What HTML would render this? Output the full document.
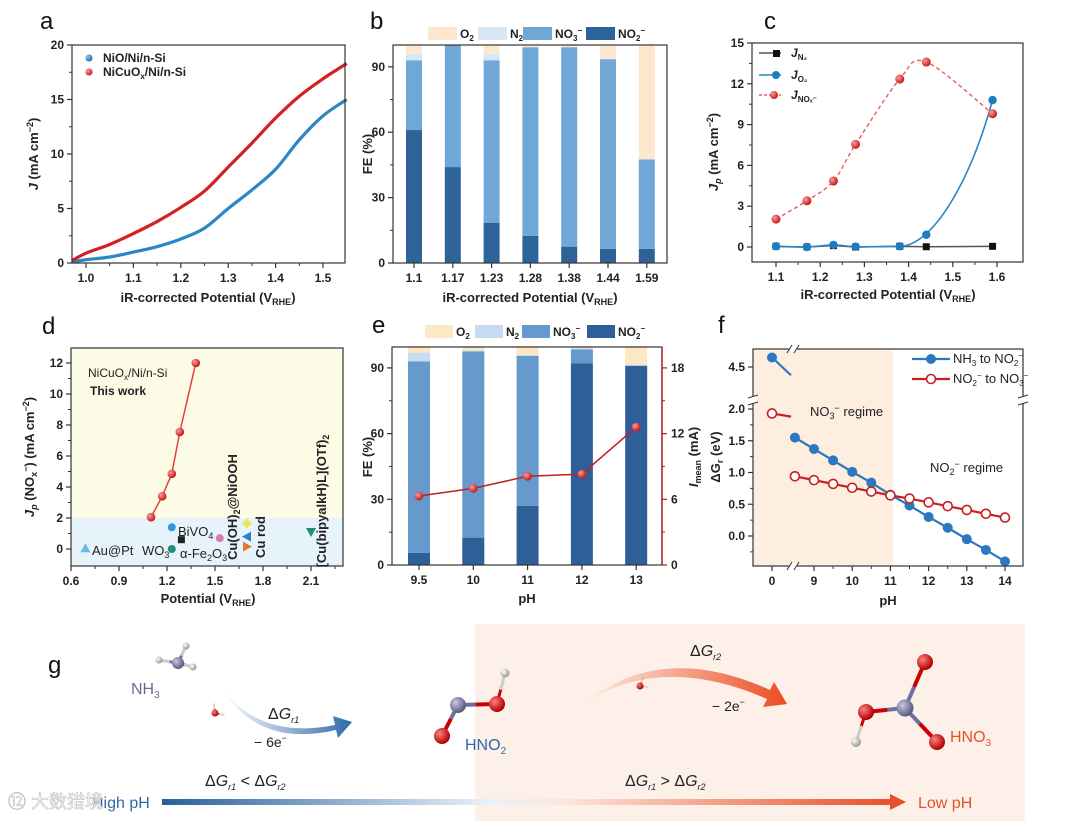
<!DOCTYPE html>
<html><head><meta charset="utf-8">
<style>
html,body{margin:0;padding:0;background:#fff;}
svg{display:block;font-family:"Liberation Sans",Arial,sans-serif;}
.t{font-size:12px;font-weight:bold;fill:#222;}
.at{font-size:13px;font-weight:bold;fill:#222;}
.pl{font-size:24px;fill:#111;}
.g16{font-size:16px;font-weight:normal;}
.g14{font-size:14px;font-weight:normal;}
</style></head>
<body>
<svg id="fig" width="1080" height="821" viewBox="0 0 1080 821" xmlns="http://www.w3.org/2000/svg">
<defs>
<radialGradient id="gN" cx="35%" cy="35%" r="65%"><stop offset="0" stop-color="#c8c8e0"/><stop offset="1" stop-color="#5a5a80"/></radialGradient>
<radialGradient id="gO" cx="35%" cy="35%" r="65%"><stop offset="0" stop-color="#ff8080"/><stop offset="1" stop-color="#b00000"/></radialGradient>
<radialGradient id="gH" cx="35%" cy="35%" r="65%"><stop offset="0" stop-color="#ffffff"/><stop offset="1" stop-color="#9a9a9a"/></radialGradient>
<radialGradient id="gR" cx="35%" cy="35%" r="65%"><stop offset="0" stop-color="#ff9a9a"/><stop offset="1" stop-color="#c41a1a"/></radialGradient>
<radialGradient id="gB" cx="35%" cy="35%" r="65%"><stop offset="0" stop-color="#8cc8f0"/><stop offset="1" stop-color="#1d6fb0"/></radialGradient>
<linearGradient id="arrB" x1="0" y1="0" x2="1" y2="0"><stop offset="0" stop-color="#2f6aa8" stop-opacity="0"/><stop offset="1" stop-color="#2f6aa8"/></linearGradient>
<linearGradient id="arrO" x1="0" y1="0" x2="1" y2="0"><stop offset="0" stop-color="#ec5a30" stop-opacity="0"/><stop offset="1" stop-color="#ec4a20"/></linearGradient>
<linearGradient id="bar" x1="0" y1="0" x2="1" y2="0"><stop offset="0" stop-color="#2a5f9a"/><stop offset="0.45" stop-color="#e8f2fa"/><stop offset="0.55" stop-color="#fde6dc"/><stop offset="1" stop-color="#e8502a"/></linearGradient>
</defs>
</svg>
<script>
// ---------- data ----------
// panel a
const aPot = [0.97,1.0,1.05,1.1,1.15,1.2,1.25,1.3,1.35,1.4,1.45,1.5,1.55];
const aRed = [0.2,0.9,1.7,2.7,3.8,5.1,6.6,8.8,11.0,13.3,15.3,16.9,18.3];
const aBlue = [0.1,0.3,0.55,1.0,1.5,2.2,3.2,5.0,6.7,8.6,11.3,13.5,15.0];
// panel b
const bCats = ['1.1','1.17','1.23','1.28','1.38','1.44','1.59'];
const bNO2 = [61,44,18.5,12.5,7.5,6.5,6.5];
const bNO3 = [32,56,74.5,86.5,91.5,87,41];
const bN2 = [3,0,3,0,0,0,0];
const bO2 = [4,0,4,0.5,1,6.5,52.5];
// panel c
const cPot = [1.1,1.17,1.23,1.28,1.38,1.44,1.59];
const cN2 = [0.05,0.0,0.1,0.0,0.05,0.02,0.05];
const cO2 = [0.05,0.0,0.15,0.02,0.05,0.9,10.8];
const cNOx = [2.05,3.4,4.85,7.55,12.35,13.6,9.8];
// panel d
const dPot = [1.1,1.17,1.23,1.28,1.38];
const dJ = [2.05,3.4,4.85,7.55,12.0];
const dRefPot = [0.69,1.23,1.23,1.29,1.53,1.70,1.70,1.70,2.10];
const dRefJ = [0.05,1.4,0.0,0.6,0.7,1.65,0.8,0.15,1.1];
// panel e
const eCats = ['9.5','10','11','12','13'];
const eNO2 = [5.5,12.5,27,92,91];
const eNO3 = [87.5,85,68.5,6.5,0];
const eN2 = [4,0.5,0.5,0.5,0.5];
const eO2 = [3,2,4,1,8.5];
const eI = [6.3,7.0,8.1,8.3,12.6];
// panel f
const fPh = [8.5,9,9.5,10,10.5,11,11.5,12,12.5,13,13.5,14];
const fBlue = [1.55,1.37,1.19,1.01,0.84,0.65,0.48,0.30,0.13,-0.05,-0.22,-0.40];
const fRed = [0.94,0.88,0.82,0.76,0.70,0.64,0.59,0.53,0.47,0.41,0.35,0.29];
const fBlue0 = [4.65,4.37];
const fRed0 = [1.93,1.88];

// ---------- helpers ----------
const NS='http://www.w3.org/2000/svg';
const svg=document.getElementById('fig');
function mk(tag,attrs,name,parent){
  const el=document.createElementNS(NS,tag);
  for(const k in attrs) el.setAttribute(k,attrs[k]);
  
  
  (parent||svg).appendChild(el);
  return el;
}
function txt(x,y,s,cls,name,extra){
  const a=Object.assign({x:x,y:y,class:cls||'t'},extra||{});
  const el=mk('text',a,name);
  el.innerHTML=s;
  return el;
}
function lin(d0,d1,r0,r1){return v=>r0+(v-d0)*(r1-r0)/(d1-d0);}
function frame(x0,y0,x1,y1,name){mk('rect',{x:x0,y:y0,width:x1-x0,height:y1-y0,fill:'none',stroke:'#333','stroke-width':1.2},name);}
function yTicks(vals,sy,x0,name,labels,side,color){
  vals.forEach((v,i)=>{
    const y=sy(v);
    const d=side==='r'?5:-5;
    mk('line',{x1:x0,y1:y,x2:x0+d,y2:y,stroke:color||'#333','stroke-width':1.2},name+'-tick');
    txt(side==='r'?x0+9:x0-8,y+4,labels?labels[i]:String(v),'t',name+'-label',{'text-anchor':side==='r'?'start':'end',fill:color||'#222'});
  });
}
function yMinor(vals,sy,x0,name,side,color){
  vals.forEach(v=>{const y=sy(v);mk('line',{x1:x0,y1:y,x2:x0+(side==='r'?3:-3),y2:y,stroke:color||'#333','stroke-width':1},name+'-minor-tick');});
}
function xTicks(vals,sx,y0,name,labels){
  vals.forEach((v,i)=>{
    const x=sx(v);
    mk('line',{x1:x,y1:y0,x2:x,y2:y0+5,stroke:'#333','stroke-width':1.2},name+'-tick');
    txt(x,y0+19,labels?labels[i]:String(v),'t',name+'-label',{'text-anchor':'middle'});
  });
}
function xMinor(vals,sx,y0,name){vals.forEach(v=>{const x=sx(v);mk('line',{x1:x,y1:y0,x2:x,y2:y0+3,stroke:'#333','stroke-width':1},name+'-minor-tick');});}
function spline(pts){
  let d='M'+pts[0][0]+','+pts[0][1];
  for(let i=0;i<pts.length-1;i++){
    const p0=pts[i-1]||pts[i],p1=pts[i],p2=pts[i+1],p3=pts[i+2]||p2;
    const c1=[p1[0]+(p2[0]-p0[0])/6,p1[1]+(p2[1]-p0[1])/6];
    const c2=[p2[0]-(p3[0]-p1[0])/6,p2[1]-(p3[1]-p1[1])/6];
    d+=' C'+c1[0]+','+c1[1]+' '+c2[0]+','+c2[1]+' '+p2[0]+','+p2[1];
  }
  return d;
}
function rotLabel(x,y,s,name,fill){
  return txt(0,0,s,'at',name,{'text-anchor':'middle',transform:'translate('+x+','+y+') rotate(-90)',fill:fill||'#222'});
}

// ================= panel a =================
txt(40,29,'a','pl','panel-label-a');
{
const sx=lin(1.0,1.5,86,323), sy=lin(0,20,263,45);
const pr=aPot.map((p,i)=>[sx(p),sy(aRed[i])]);
const pb=aPot.map((p,i)=>[sx(p),sy(aBlue[i])]);
mk('path',{d:spline(pb),fill:'none',stroke:'#2c86c4','stroke-width':3.2},'curve-nio');
mk('path',{d:spline(pr),fill:'none',stroke:'#d42020','stroke-width':3.2},'curve-nicuox');
frame(72,45,345,263,'plot-frame-a');
yTicks([0,5,10,15,20],sy,72,'y-axis-a');
yMinor([2.5,7.5,12.5,17.5],sy,72,'y-axis-a');
xTicks([1.0,1.1,1.2,1.3,1.4,1.5],sx,263,'x-axis-a',['1.0','1.1','1.2','1.3','1.4','1.5']);
xMinor([1.05,1.15,1.25,1.35,1.45],sx,263,'x-axis-a');
txt(208,302,'iR-corrected Potential (V<tspan font-size="9" dy="3">RHE</tspan><tspan dy="-3">)</tspan>','at','x-axis-title-a',{'text-anchor':'middle'});
rotLabel(38,154,'<tspan font-style="italic">J</tspan> (mA cm<tspan font-size="9" dy="-5">−2</tspan><tspan dy="5">)</tspan>','y-axis-title-a');
mk('circle',{cx:89,cy:58,r:3.5,fill:'url(#gB)'},'legend-marker-nio');
txt(103,62,'NiO/Ni/n-Si','t','legend-entry-nio');
mk('circle',{cx:89,cy:72,r:3.5,fill:'url(#gR)'},'legend-marker-nicuox');
txt(103,76,'NiCuO<tspan font-size="8" dy="3">x</tspan><tspan dy="-3">/Ni/n-Si</tspan>','t','legend-entry-nicuox');
}

// ================= panel b =================
txt(370,29,'b','pl','panel-label-b');
{
const cB={O2:'#fde8cf',N2:'#d6e8f5',NO3:'#6fa8d6',NO2:'#2e6399'};
const sx=i=>414+i*38.8, sy=lin(0,100,263,45), bw=16;
bCats.forEach((c,i)=>{
  let base=0;
  [[bNO2,'NO2'],[bNO3,'NO3'],[bN2,'N2'],[bO2,'O2']].forEach(([arr,k])=>{
    const v=arr[i]; if(v<=0) return;
    mk('rect',{x:sx(i)-bw/2,y:sy(base+v),width:bw,height:sy(base)-sy(base+v),fill:cB[k]},'bar-'+k.toLowerCase()+'-'+c);
    base+=v;
  });
});
frame(393,45,667,263,'plot-frame-b');
yTicks([0,30,60,90],sy,393,'y-axis-b');
yMinor([15,45,75],sy,393,'y-axis-b');
xTicks([0,1,2,3,4,5,6],sx,263,'x-axis-b',bCats);
txt(530,302,'iR-corrected Potential (V<tspan font-size="9" dy="3">RHE</tspan><tspan dy="-3">)</tspan>','at','x-axis-title-b',{'text-anchor':'middle'});
rotLabel(372,154,'FE (%)','y-axis-title-b');
[[428,'O2','O<tspan font-size="8" dy="3">2</tspan>'],[478,'N2','N<tspan font-size="8" dy="3">2</tspan>'],[523,'NO3','NO<tspan font-size="8" dy="3">3</tspan><tspan font-size="8" dy="-8">−</tspan>'],[586,'NO2','NO<tspan font-size="8" dy="3">2</tspan><tspan font-size="8" dy="-8">−</tspan>']].forEach(([x,k,l])=>{
  mk('rect',{x:x,y:27,width:29,height:13,fill:cB[k]},'legend-swatch-'+k.toLowerCase());
  txt(x+32,38,l,'t','legend-entry-'+k.toLowerCase());
});
}

// ================= panel c =================
txt(764,29,'c','pl','panel-label-c');
{
const sx=lin(1.1,1.6,776,997), sy=lin(0,15,247,43);
mk('polyline',{points:cPot.map((p,i)=>sx(p)+','+sy(cN2[i])).join(' '),fill:'none',stroke:'#555','stroke-width':1.5},'line-jn2');
const o2pts=cPot.map((p,i)=>[sx(p),sy(cO2[i])]);
const a=o2pts[4], b=o2pts[6];
const o2d=spline(o2pts.slice(0,5))+' C'+(a[0]+30)+','+a[1]+' '+(b[0]-25)+','+(b[1]+90)+' '+b[0]+','+b[1];
mk('path',{d:o2d,fill:'none',stroke:'#2c86c4','stroke-width':1.6},'line-jo2');
mk('path',{d:spline(cPot.map((p,i)=>[sx(p),sy(cNOx[i])])),fill:'none',stroke:'#e85a5a','stroke-width':1.4,'stroke-dasharray':'4,3'},'line-jnox');
cPot.forEach((p,i)=>{
  mk('rect',{x:sx(p)-3.5,y:sy(cN2[i])-3.5,width:7,height:7,fill:'#111'},'point-jn2');
  mk('circle',{cx:sx(p),cy:sy(cO2[i]),r:4.2,fill:'#1d7bc0'},'point-jo2');
  mk('circle',{cx:sx(p),cy:sy(cNOx[i]),r:4.5,fill:'url(#gR)'},'point-jnox');
});
frame(752,43,1023,262,'plot-frame-c');
yTicks([0,3,6,9,12,15],sy,752,'y-axis-c');
yMinor([1.5,4.5,7.5,10.5,13.5],sy,752,'y-axis-c');
xTicks([1.1,1.2,1.3,1.4,1.5,1.6],sx,262,'x-axis-c',['1.1','1.2','1.3','1.4','1.5','1.6']);
xMinor([1.15,1.25,1.35,1.45,1.55],sx,262,'x-axis-c');
txt(888,299,'iR-corrected Potential (V<tspan font-size="9" dy="3">RHE</tspan><tspan dy="-3">)</tspan>','at','x-axis-title-c',{'text-anchor':'middle'});
rotLabel(718,152,'<tspan font-style="italic">J<tspan font-size="9" dy="3">p</tspan></tspan><tspan dy="-3"> (mA cm</tspan><tspan font-size="9" dy="-5">−2</tspan><tspan dy="5">)</tspan>','y-axis-title-c');
mk('line',{x1:759,y1:53,x2:781,y2:53,stroke:'#555','stroke-width':1.5},'legend-line-jn2');
mk('rect',{x:773,y:50,width:7,height:7,fill:'#111'},'legend-marker-jn2');
txt(791,57,'<tspan font-style="italic">J</tspan><tspan font-size="8" dy="3">N₂</tspan>','t','legend-entry-jn2');
mk('line',{x1:759,y1:75,x2:781,y2:75,stroke:'#2c86c4','stroke-width':1.5},'legend-line-jo2');
mk('circle',{cx:776,cy:75,r:4,fill:'#1d7bc0'},'legend-marker-jo2');
txt(791,79,'<tspan font-style="italic">J</tspan><tspan font-size="8" dy="3">O₂</tspan>','t','legend-entry-jo2');
mk('line',{x1:759,y1:95,x2:781,y2:95,stroke:'#e85a5a','stroke-width':1.4,'stroke-dasharray':'3,2'},'legend-line-jnox');
mk('circle',{cx:774,cy:95,r:4,fill:'url(#gR)'},'legend-marker-jnox');
txt(791,99,'<tspan font-style="italic">J</tspan><tspan font-size="8" dy="3">NOₓ⁻</tspan>','t','legend-entry-jnox');
}

// ================= panel d =================
txt(42,334,'d','pl','panel-label-d');
{
const sx=lin(0.6,2.1,71,311), sy=lin(0,12,549,363);
mk('rect',{x:71,y:348,width:272,height:sy(2)-348,fill:'#fcfbe6'},'region-high');
mk('rect',{x:71,y:sy(2),width:272,height:566-sy(2),fill:'#e7f3fa'},'region-low');
mk('polyline',{points:dPot.map((p,i)=>sx(p)+','+sy(dJ[i])).join(' '),fill:'none',stroke:'#e04040','stroke-width':1.5},'line-this-work');
dPot.forEach((p,i)=>mk('circle',{cx:sx(p),cy:sy(dJ[i]),r:4.3,fill:'url(#gR)'},'point-this-work'));
const shapes=['tri','circle','circle','square','circle','diamond','tril','trir','trid'];
const cols=['#6db8e8','#2b9be0','#1e8f80','#222','#d080b0','#f0e060','#2b80c8','#e07a30','#1e9070'];
dRefPot.forEach((p,i)=>{
  const x=sx(p),y=sy(dRefJ[i]),c=cols[i],s=shapes[i];
  if(s==='circle') mk('circle',{cx:x,cy:y,r:4,fill:c},'point-ref');
  else if(s==='square') mk('rect',{x:x-3.5,y:y-3.5,width:7,height:7,fill:c},'point-ref');
  else if(s==='diamond') mk('polygon',{points:`${x},${y-5} ${x+5},${y} ${x},${y+5} ${x-5},${y}`,fill:c},'point-ref');
  else if(s==='tri') mk('polygon',{points:`${x},${y-5} ${x+5},${y+4} ${x-5},${y+4}`,fill:c},'point-ref');
  else if(s==='tril') mk('polygon',{points:`${x-5},${y} ${x+4},${y-5} ${x+4},${y+5}`,fill:c},'point-ref');
  else if(s==='trir') mk('polygon',{points:`${x+5},${y} ${x-4},${y-5} ${x-4},${y+5}`,fill:c},'point-ref');
  else mk('polygon',{points:`${x},${y+5} ${x+5},${y-4} ${x-5},${y-4}`,fill:c},'point-ref');
});
frame(71,348,343,566,'plot-frame-d');
yTicks([0,2,4,6,8,10,12],sy,71,'y-axis-d');
yMinor([1,3,5,7,9,11],sy,71,'y-axis-d');
xTicks([0.6,0.9,1.2,1.5,1.8,2.1],sx,566,'x-axis-d',['0.6','0.9','1.2','1.5','1.8','2.1']);
xMinor([0.75,1.05,1.35,1.65,1.95,2.25],sx,566,'x-axis-d');
txt(208,603,'Potential (V<tspan font-size="9" dy="3">RHE</tspan><tspan dy="-3">)</tspan>','at','x-axis-title-d',{'text-anchor':'middle'});
rotLabel(34,457,'<tspan font-style="italic">J<tspan font-size="9" dy="3">p</tspan></tspan><tspan dy="-3"> (NO</tspan><tspan font-size="9" dy="3">x</tspan><tspan font-size="9" dy="-8">−</tspan><tspan dy="5">) (mA cm</tspan><tspan font-size="9" dy="-5">−2</tspan><tspan dy="5">)</tspan>','y-axis-title-d');
txt(88,377,'NiCuO<tspan font-size="8" dy="3">x</tspan><tspan dy="-3">/Ni/n-Si</tspan>','t','label-this-work-material',{fill:'#b01818',style:'font-weight:normal'});
txt(90,395,'This work','t','label-this-work',{fill:'#a01010'});
txt(92,555,'Au@Pt','at','label-au-pt',{fill:'#1e6fa8',style:'font-weight:normal'});
txt(142,555,'WO<tspan font-size="9" dy="3">3</tspan>','at','label-wo3',{fill:'#1e7f70',style:'font-weight:normal'});
txt(178,536,'BiVO<tspan font-size="9" dy="3">4</tspan>','at','label-bivo4',{fill:'#1e78c0',style:'font-weight:normal'});
txt(180,558,'α-Fe<tspan font-size="9" dy="3">2</tspan><tspan dy="-3">O</tspan><tspan font-size="9" dy="3">3</tspan>','at','label-fe2o3',{fill:'#222',style:'font-weight:normal'});
rotLabel(237,507,'Cu(OH)<tspan font-size="9" dy="3">2</tspan><tspan dy="-3">@NiOOH</tspan>','label-cuoh2-niooh','#9a4f88');
rotLabel(265,537,'Cu rod','label-cu-rod','#1e5fa0');
rotLabel(326,501,'[Cu(bipyalkH)L](OTf)<tspan font-size="9" dy="3">2</tspan>','label-cu-complex','#1e8060');
}

// ================= panel e =================
txt(372,333,'e','pl','panel-label-e');
{
const cE={O2:'#fde8c6',N2:'#c6dcf0',NO3:'#6699cc',NO2:'#2e5f99'};
const sx=i=>419+i*54.3, sy=lin(0,100,565,346), syr=lin(0,20,565,346), bw=22;
eCats.forEach((c,i)=>{
  let base=0;
  [[eNO2,'NO2'],[eNO3,'NO3'],[eN2,'N2'],[eO2,'O2']].forEach(([arr,k])=>{
    const v=arr[i]; if(v<=0) return;
    mk('rect',{x:sx(i)-bw/2,y:sy(base+v),width:bw,height:sy(base)-sy(base+v),fill:cE[k]},'bar-'+k.toLowerCase()+'-ph'+c);
    base+=v;
  });
});
mk('polyline',{points:eCats.map((c,i)=>sx(i)+','+syr(eI[i])).join(' '),fill:'none',stroke:'#c02020','stroke-width':1.5},'line-imean');
eCats.forEach((c,i)=>mk('circle',{cx:sx(i),cy:syr(eI[i]),r:4.3,fill:'url(#gR)'},'point-imean'));
mk('rect',{x:392,y:347,width:270,height:218,fill:'none',stroke:'#333','stroke-width':1.2},'plot-frame-e');
mk('line',{x1:662,y1:347,x2:662,y2:565,stroke:'#c02020','stroke-width':1.5},'y-axis-right-e');
yTicks([0,30,60,90],sy,392,'y-axis-e');
yMinor([15,45,75],sy,392,'y-axis-e');
yTicks([0,6,12,18],syr,662,'y-axis-right-e',null,'r','#b01c1c');
yMinor([3,9,15],syr,662,'y-axis-right-e','r','#b01c1c');
xTicks([0,1,2,3,4],sx,565,'x-axis-e',eCats);
txt(527,603,'pH','at','x-axis-title-e',{'text-anchor':'middle'});
rotLabel(372,457,'FE (%)','y-axis-title-e');
rotLabel(698,457,'<tspan font-style="italic">I</tspan><tspan font-size="9" dy="3">mean</tspan><tspan dy="-3"> (mA)</tspan>','y-axis-title-right-e','#b01c1c');
[[425,'O2','O<tspan font-size="8" dy="3">2</tspan>'],[475,'N2','N<tspan font-size="8" dy="3">2</tspan>'],[522,'NO3','NO<tspan font-size="8" dy="3">3</tspan><tspan font-size="8" dy="-8">−</tspan>'],[587,'NO2','NO<tspan font-size="8" dy="3">2</tspan><tspan font-size="8" dy="-8">−</tspan>']].forEach(([x,k,l])=>{
  mk('rect',{x:x,y:325,width:28,height:13,fill:cE[k]},'legend-swatch-e-'+k.toLowerCase());
  txt(x+31,336,l,'t','legend-entry-e-'+k.toLowerCase());
});
}

// ================= panel f =================
txt(718,333,'f','pl','panel-label-f');
{
const sx=lin(9,14,814,1005), x0=772, xBr=791;
const sy=lin(0,2,536,409), syU=v=>367-(v-4.5)*63.5;
mk('rect',{x:753,y:349,width:893-753,height:217,fill:'#fdeee0'},'region-no3');
mk('line',{x1:x0,y1:syU(fBlue0[0]),x2:xBr,y2:syU(fBlue0[1]),stroke:'#2a78c0','stroke-width':2.2},'line-nh3-no2-ph0');
mk('circle',{cx:x0,cy:syU(fBlue0[0]),r:5,fill:'#2a78c0'},'point-nh3-no2');
mk('line',{x1:x0,y1:sy(fRed0[0]),x2:xBr,y2:sy(fRed0[1]),stroke:'#c82020','stroke-width':2.2},'line-no2-no3-ph0');
mk('circle',{cx:x0,cy:sy(fRed0[0]),r:4.5,fill:'#fff',stroke:'#c82020','stroke-width':1.6},'point-no2-no3');
mk('polyline',{points:fPh.map((p,i)=>sx(p)+','+sy(fBlue[i])).join(' '),fill:'none',stroke:'#2a78c0','stroke-width':2.2},'line-nh3-no2');
mk('polyline',{points:fPh.map((p,i)=>sx(p)+','+sy(fRed[i])).join(' '),fill:'none',stroke:'#c82020','stroke-width':2.2},'line-no2-no3');
fPh.forEach((p,i)=>{
  mk('circle',{cx:sx(p),cy:sy(fBlue[i]),r:5,fill:'#2a78c0'},'point-nh3-no2');
  mk('circle',{cx:sx(p),cy:sy(fRed[i]),r:4.5,fill:'#fff',stroke:'#c82020','stroke-width':1.6},'point-no2-no3');
});
mk('rect',{x:753,y:349,width:270,height:217,fill:'none',stroke:'#333','stroke-width':1.2},'plot-frame-f');
[[793,566],[793,349]].forEach(([x,y])=>{
  mk('rect',{x:x-4,y:y-3,width:8,height:6,fill:'#fff'},'x-axis-break-gap');
  mk('line',{x1:x-6,y1:y+4,x2:x-1,y2:y-4,stroke:'#333'},'x-axis-break');
  mk('line',{x1:x+1,y1:y+4,x2:x+6,y2:y-4,stroke:'#333'},'x-axis-break');
});
[[753,400],[1023,400]].forEach(([x,y])=>{
  mk('rect',{x:x-3,y:y-4,width:6,height:8,fill:'#fff'},'y-axis-break-gap');
  mk('line',{x1:x-5,y1:y-2,x2:x+5,y2:y-5,stroke:'#333'},'y-axis-break');
  mk('line',{x1:x-5,y1:y+5,x2:x+5,y2:y+2,stroke:'#333'},'y-axis-break');
});
yTicks([0,0.5,1.0,1.5,2.0],sy,753,'y-axis-f',['0.0','0.5','1.0','1.5','2.0']);
yMinor([-0.25,0.25,0.75,1.25,1.75],sy,753,'y-axis-f');
yTicks([4.5],syU,753,'y-axis-upper-f',['4.5']);
xTicks([0],v=>x0,566,'x-axis-f',['0']);
xTicks([9,10,11,12,13,14],sx,566,'x-axis-f');
xMinor([9.5,10.5,11.5,12.5,13.5],sx,566,'x-axis-f');
txt(888,605,'pH','at','x-axis-title-f',{'text-anchor':'middle'});
rotLabel(720,457,'ΔG<tspan font-size="9" dy="3">r</tspan><tspan dy="-3"> (eV)</tspan>','y-axis-title-f');
txt(810,416,'NO<tspan font-size="9" dy="3">3</tspan><tspan font-size="9" dy="-8">−</tspan><tspan dy="5"> regime</tspan>','at','label-no3-regime',{style:'font-weight:normal'});
txt(930,472,'NO<tspan font-size="9" dy="3">2</tspan><tspan font-size="9" dy="-8">−</tspan><tspan dy="5"> regime</tspan>','at','label-no2-regime',{style:'font-weight:normal'});
mk('line',{x1:912,y1:359,x2:950,y2:359,stroke:'#2a78c0','stroke-width':2.2},'legend-line-nh3');
mk('circle',{cx:931,cy:359,r:5,fill:'#2a78c0'},'legend-marker-nh3');
txt(953,363,'NH<tspan font-size="8" dy="3">3</tspan><tspan dy="-3"> to NO</tspan><tspan font-size="8" dy="3">2</tspan><tspan font-size="8" dy="-8">−</tspan>','at','legend-entry-nh3',{style:'font-weight:normal'});
mk('line',{x1:912,y1:379,x2:950,y2:379,stroke:'#c82020','stroke-width':2.2},'legend-line-no2');
mk('circle',{cx:931,cy:379,r:4.5,fill:'#fff',stroke:'#c82020','stroke-width':1.6},'legend-marker-no2');
txt(953,383,'NO<tspan font-size="8" dy="3">2</tspan><tspan font-size="8" dy="-8">−</tspan><tspan dy="5"> to NO</tspan><tspan font-size="8" dy="3">3</tspan><tspan font-size="8" dy="-8">−</tspan>','at','legend-entry-no2',{style:'font-weight:normal'});
}

// ================= panel g =================
mk('rect',{x:475,y:624,width:550,height:197,fill:'#fdf0e8'},'region-low-ph');
txt(48,673,'g','pl','panel-label-g');
function bond(x1,y1,x2,y2,c1,c2,w){
  const mx=(x1+x2)/2,my=(y1+y2)/2;
  mk('line',{x1:x1,y1:y1,x2:mx,y2:my,stroke:c1,'stroke-width':w,'stroke-linecap':'round'},'bond');
  mk('line',{x1:mx,y1:my,x2:x2,y2:y2,stroke:c2,'stroke-width':w,'stroke-linecap':'round'},'bond');
}
function atom(x,y,r,f,n){mk('circle',{cx:x,cy:y,r:r,fill:f},n);}
bond(178,663,159,660,'#7070a0','#ccc',3);bond(178,663,186,646,'#7070a0','#ccc',3);bond(178,663,193,667,'#7070a0','#ccc',3);
atom(159,660,3.5,'url(#gH)','atom-h');atom(186,646,3.5,'url(#gH)','atom-h');atom(193,667,3.5,'url(#gH)','atom-h');
atom(178,663,6,'url(#gN)','atom-n');
txt(131,694,'NH<tspan font-size="10" dy="4">3</tspan>','g16','label-nh3',{fill:'#6a6a90'});
bond(215,713,224,715,'#c00','#ccc',1.5);bond(215,713,214,704,'#c00','#ccc',1.5);atom(215,713,3.5,'url(#gO)','atom-o');
bond(640,686,648,687,'#c00','#ccc',1.5);bond(640,686,643,678,'#c00','#ccc',1.5);atom(640,686,3.5,'url(#gO)','atom-o');
mk('path',{d:'M222,688 Q260,740 335,725 L333,716 L352,722 L338,738 L336,730 Q258,748 222,688 Z',fill:'url(#arrB)'},'arrow-step1');
txt(268,719,'Δ<tspan font-style="italic">G</tspan><tspan font-size="9" dy="4" font-style="italic">r1</tspan>','g16','label-dgr1',{fill:'#222'});
txt(254,747,'− 6e<tspan font-size="9" dy="-6">−</tspan>','g14','label-6e',{fill:'#222'});
bond(458,705,442,736,'#7070a0','#c00',4);bond(458,705,497,704,'#7070a0','#c00',4);bond(497,704,505,673,'#c00','#ccc',3);
atom(505,673,4.5,'url(#gH)','atom-h');atom(458,705,8,'url(#gN)','atom-n');atom(497,704,8,'url(#gO)','atom-o');atom(442,736,8,'url(#gO)','atom-o');
txt(465,750,'HNO<tspan font-size="10" dy="4">2</tspan>','g16','label-hno2',{fill:'#2e6aa8'});
mk('path',{d:'M582,705 Q660,640 770,690 L774,682 L787,704 L763,707 L767,699 Q660,652 582,705 Z',fill:'url(#arrO)'},'arrow-step2');
txt(690,656,'Δ<tspan font-style="italic">G</tspan><tspan font-size="9" dy="4" font-style="italic">r2</tspan>','g16','label-dgr2',{fill:'#222'});
txt(712,711,'− 2e<tspan font-size="9" dy="-6">−</tspan>','g14','label-2e',{fill:'#222'});
bond(905,708,925,662,'#7070a0','#c00',4);bond(905,708,866,712,'#7070a0','#c00',4);bond(905,708,937,742,'#7070a0','#c00',4);bond(866,712,856,742,'#c00','#ccc',3);
atom(856,742,5,'url(#gH)','atom-h');atom(866,712,8,'url(#gO)','atom-o');atom(905,708,8.5,'url(#gN)','atom-n');atom(925,662,8,'url(#gO)','atom-o');atom(937,742,8,'url(#gO)','atom-o');
txt(950,742,'HNO<tspan font-size="10" dy="4">3</tspan>','g16','label-hno3',{fill:'#e8502a'});
txt(205,786,'Δ<tspan font-style="italic">G</tspan><tspan font-size="9" dy="4" font-style="italic">r1</tspan><tspan dy="-4"> &lt; Δ</tspan><tspan font-style="italic">G</tspan><tspan font-size="9" dy="4" font-style="italic">r2</tspan>','g16','label-dg-compare-high',{fill:'#222'});
txt(625,786,'Δ<tspan font-style="italic">G</tspan><tspan font-size="9" dy="4" font-style="italic">r1</tspan><tspan dy="-4"> &gt; Δ</tspan><tspan font-style="italic">G</tspan><tspan font-size="9" dy="4" font-style="italic">r2</tspan>','g16','label-dg-compare-low',{fill:'#222'});
mk('rect',{x:162,y:799,width:730,height:6,fill:'url(#bar)'},'ph-gradient-arrow');
mk('polygon',{points:'890,794 906,802 890,810',fill:'#e8502a'},'ph-arrowhead');
txt(92,808,'High pH','g16','label-high-ph',{fill:'#2e6aa8'});
txt(918,808,'Low pH','g16','label-low-ph',{fill:'#e8502a'});
txt(8,808,'⑫ 大数猎境','g16','watermark',{fill:'#ffffff',stroke:'#bbb','stroke-width':'0.6',style:'font-size:18px;font-family:"Liberation Sans","Noto Sans CJK SC",sans-serif'});
</script>
</body></html>
